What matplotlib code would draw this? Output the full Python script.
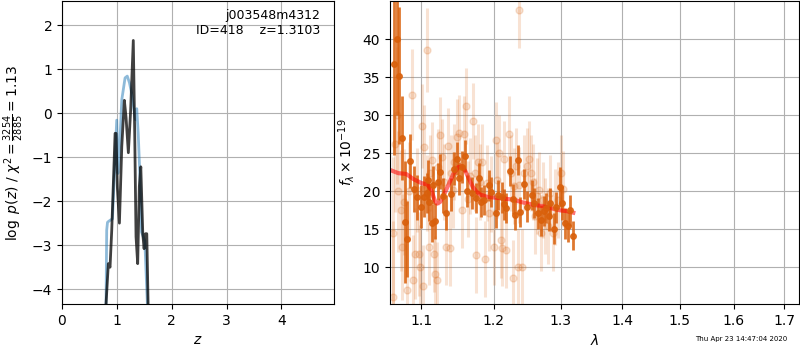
import matplotlib
matplotlib.use('Agg')
import matplotlib.pyplot as plt
import numpy as np

# --- redshift panel ---
z_pz = [0.803, 0.815, 0.83, 0.86, 0.92, 0.998, 1.02, 1.05, 1.09, 1.15, 1.19, 1.23,
        1.27, 1.31, 1.34, 1.363, 1.39, 1.42, 1.45, 1.51, 1.557]
logp_pz = [-4.34, -2.66, -2.48, -2.45, -2.4, -0.16, -1.37, -0.8, 0.3, 0.8, 0.84, 0.69,
           0.45, 0.1, -0.15, 0.1, -0.47, -1.4, -2.7, -2.9, -4.34]

z_chi = [0.803, 0.845, 0.876, 0.907, 0.968, 0.985, 1.01, 1.047, 1.09, 1.137, 1.168,
         1.21, 1.252, 1.3, 1.326, 1.35, 1.38, 1.41, 1.437, 1.473, 1.497, 1.522,
         1.546, 1.57]
logp_chi = [-4.34, -3.42, -3.5, -2.66, -0.46, -0.46, -1.7, -2.5, -0.76, 0.29, -0.1,
            -0.9, 0.07, 1.65, -0.46, -2.81, -3.42, -1.67, -1.22, -2.74, -3.08, -2.74,
            -2.74, -4.34]

# --- spectrum panel ---
wave_a = [1.0649, 1.0679, 1.0713, 1.0752, 1.0791, 1.0817, 1.0856, 1.0947, 1.1071,
          1.1084, 1.1106, 1.1137, 1.1182, 1.1218, 1.1249, 1.1330, 1.1394, 1.1440,
          1.1481, 1.1513, 1.1546, 1.1592, 1.1685, 1.1746, 1.1793, 1.1859, 1.1926,
          1.2027, 1.2066, 1.2115, 1.2179, 1.2228, 1.2277, 1.2311, 1.2346, 1.2386,
          1.2436, 1.2486, 1.2556, 1.2596, 1.2647, 1.2698, 1.2739, 1.2780, 1.2816,
          1.2842, 1.2894, 1.2935, 1.2987, 1.3024, 1.3066, 1.3113, 1.3155, 1.3198,
          1.0900, 1.0990, 1.1030, 1.1160, 1.1290, 1.1620, 1.1820, 1.1960, 1.2150]
flux_a = [36.75, 40.1, 35.2, 27.0, 16.0, 13.7, 24.0, 19.2, 19.8, 21.5, 18.6, 15.9,
          16.1, 21.3, 22.6, 17.2, 19.6, 23.0, 24.3, 21.7, 23.2, 24.6, 19.8, 19.1,
          21.7, 18.9, 20.8, 17.2, 19.5, 19.2, 17.8, 22.7, 19.0, 16.9, 24.1, 17.3,
          21.0, 18.0, 19.5, 18.5, 17.1, 16.2, 17.4, 17.8, 16.8, 18.5, 15.1, 17.9,
          20.6, 18.5, 15.8, 15.4, 17.5, 14.2,
          20.3, 18.0, 19.3, 20.8, 19.4, 20.1, 18.6, 19.9, 18.3]
err_a = [12, 10, 9, 5.5, 8, 5, 3.5, 3, 2.6, 2.6, 2.5, 2.5, 2.4, 2.4, 2.3, 2.3, 2.2,
         2.2, 2.2, 2.2, 2.1, 2.1, 2.1, 2.0, 2.0, 2.0, 2.0, 2.0, 2.0, 2.0, 2.0, 2.0,
         2.0, 2.0, 2.0, 2.0, 2.0, 2.0, 2.0, 2.0, 2.0, 2.0, 2.0, 2.0, 2.0, 2.0, 2.0,
         2.0, 2.6, 2.2, 2.0, 2.0, 2.0, 1.9,
         3.0, 2.8, 2.7, 2.5, 2.3, 2.1, 2.0, 2.0, 2.0]

wave_b = [1.0627, 1.0636, 1.0658, 1.0679, 1.0701, 1.0731, 1.0744, 1.0775, 1.0809,
          1.0844, 1.0883, 1.0896, 1.0917, 1.0948, 1.0970, 1.0983, 1.1005, 1.1019,
          1.1037, 1.1069, 1.1074, 1.1097, 1.1120, 1.1144, 1.1167, 1.1176, 1.1204,
          1.1222, 1.1245, 1.1282, 1.1306, 1.1329, 1.1361, 1.1389, 1.1398, 1.1421,
          1.1444, 1.1482, 1.1514, 1.1546, 1.1574, 1.1602, 1.1630, 1.1667, 1.1704,
          1.1732, 1.1750, 1.1778, 1.1806, 1.1824, 1.1870, 1.1898, 1.1931, 1.1963,
          1.2000, 1.2025, 1.2050, 1.2074, 1.2099, 1.2124, 1.2149, 1.2183, 1.2213,
          1.2248, 1.2277, 1.2297, 1.2322, 1.2347, 1.2361, 1.2371, 1.2406, 1.2446,
          1.2485, 1.2510, 1.2545, 1.2584, 1.2604, 1.2644, 1.2668, 1.2703, 1.2733,
          1.2767, 1.2802, 1.2842, 1.2881, 1.2921, 1.2965, 1.3000, 1.3040]
flux_b = [14.5, 6.1, 26.3, 30.0, 20.0, 17.5, 12.7, 18.6, 7.0, 20.0, 32.7, 8.3, 11.8,
          20.2, 11.8, 10.1, 28.6, 7.5, 25.9, 38.6, 19.8, 12.7, 22.4, 24.1, 11.8, 9.2,
          8.3, 23.2, 27.4, 24.5, 21.3, 12.7, 26.0, 12.5, 22.4, 20.2, 23.9, 27.1, 27.7,
          17.5, 27.6, 31.2, 19.0, 22.0, 29.3, 22.4, 11.6, 23.9, 21.3, 23.9, 11.1,
          21.1, 17.2, 19.6, 12.7, 26.8, 21.5, 25.0, 13.6, 12.5, 24.3, 12.3, 27.6,
          22.4, 8.6, 20.7, 23.3, 10.1, 43.9, 20.9, 10.1, 22.4, 23.3, 24.2, 22.4,
          21.3, 16.8, 19.4, 20.2, 14.5, 18.9, 16.8, 15.4, 19.8, 14.5, 18.0, 18.9,
          22.4, 20.3]
err_b = [10, 10, 9, 9, 8, 8, 7, 7, 6.5, 6.5, 6, 6, 6, 5.5, 5.5, 5.5, 5.5, 5.5, 5.5,
         5.5, 5, 5, 5, 5, 5, 5, 5, 5, 5, 5, 5, 5, 5, 5, 5, 5, 5, 5, 5, 5, 5, 5, 5,
         5, 5, 5, 5, 5, 5, 5, 5, 5, 5, 5, 5, 5, 5, 5, 5, 5, 5, 5, 5, 5, 5, 5, 5, 5,
         5, 5, 5, 5, 5, 5, 5, 5, 5, 5, 5, 5, 5, 5, 5, 5, 5, 5, 5, 5, 5]

wave_model = [1.06, 1.07, 1.08, 1.09, 1.10, 1.108, 1.113, 1.118, 1.121, 1.125, 1.13,
              1.137, 1.143, 1.15, 1.155, 1.16, 1.165, 1.17, 1.175, 1.18, 1.19, 1.20,
              1.21, 1.22, 1.23, 1.24, 1.25, 1.26, 1.27, 1.28, 1.29, 1.30, 1.31, 1.32]
flux_model = [22.8, 22.4, 22.3, 21.6, 21.1, 20.9, 20.2, 18.8, 18.4, 18.6, 19.5, 21.0,
              22.3, 23.2, 23.3, 22.6, 21.6, 20.6, 20.0, 19.6, 19.3, 19.2, 19.1, 19.0,
              18.9, 18.6, 18.4, 18.2, 18.1, 17.9, 17.7, 17.5, 17.4, 17.2]

fig = plt.figure(figsize=(8, 3.5), dpi=100)

ax1 = fig.add_axes([0.0775, 0.131, 0.34, 0.866])
ax1.plot(z_pz, logp_pz, color='tab:blue', alpha=0.5, lw=2)
ax1.plot(z_chi, logp_chi, color='k', alpha=0.75, lw=2)
ax1.set_xlim(0, 4.96)
ax1.set_ylim(-4.34, 2.545)
ax1.set_xticks([0, 1, 2, 3, 4])
ax1.set_yticks([-4, -3, -2, -1, 0, 1, 2])
ax1.grid(True)
ax1.set_xlabel('$z$')
ax1.set_ylabel(r'$\log\ p(z)$' + ' / ' + r'$\chi^2=\frac{3254}{2885}=1.13$')
ax1.text(0.95, 0.975, 'j003548m4312\nID=418    z=1.3103', ha='right', va='top',
         transform=ax1.transAxes, fontsize=9)

ax2 = fig.add_axes([0.4875, 0.131, 0.5115, 0.866])
orange = '#d9600b'
ax2.errorbar(wave_b, flux_b, err_b, marker='o', ms=5, linestyle='None',
             color=orange, alpha=0.18, elinewidth=2.2)
ax2.errorbar(wave_a, flux_a, err_a, marker='o', ms=4, linestyle='None',
             color=orange, alpha=0.85, elinewidth=2)
ax2.plot(wave_model, flux_model, color='red', alpha=0.55, lw=3)
ax2.set_xscale('log')
ax2.set_xlim(1.0594, 1.731)
ax2.set_ylim(5.17, 45.04)
ax2.set_xticks([1.1, 1.2, 1.3, 1.4, 1.5, 1.6, 1.7])
ax2.set_xticklabels(['1.1', '1.2', '1.3', '1.4', '1.5', '1.6', '1.7'])
ax2.minorticks_off()
ax2.set_yticks([10, 15, 20, 25, 30, 35, 40])
ax2.grid(True)
ax2.set_xlabel(r'$\lambda$')
ax2.set_ylabel(r'$f_\lambda\times10^{-19}$')

fig.text(0.984, 0.031, 'Thu Apr 23 14:47:04 2020', ha='right', va='center', fontsize=5)

fig.savefig('out.png', dpi=100)
